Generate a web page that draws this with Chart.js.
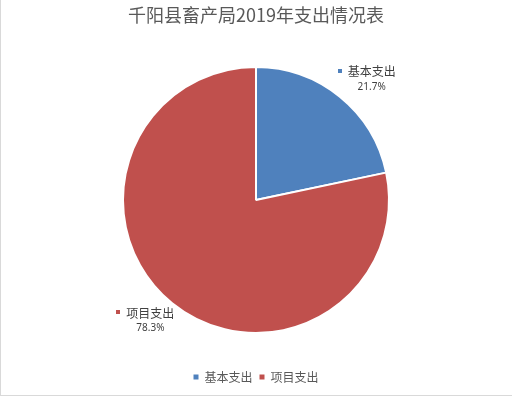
<!DOCTYPE html>
<html>
<head>
<meta charset="utf-8">
<script src="https://cdn.jsdelivr.net/npm/chart.js@4.4.1/dist/chart.umd.min.js"></script>
<style>
  html, body { margin: 0; padding: 0; background: #fff; }
  #wrap { position: absolute; left: 0; top: 0; width: 512px; height: 397px; }
  #bl { position: absolute; left: 0; top: 0; width: 1px; height: 396px; background: #d9d9d9; }
  #bb { position: absolute; left: 0; top: 395px; width: 512px; height: 1px; background: #d9d9d9; }
</style>
</head>
<body>
<div id="wrap"><canvas id="c" width="512" height="397"></canvas></div>
<div id="bl"></div><div id="bb"></div>
<script>
const titleText = '千阳县畜产局2019年支出情况表';
const categories = ['基本支出', '项目支出'];
const values = [21.7, 78.3];
const colors = ['#4F81BD', '#C0504D'];

const cjk = '"Noto Sans CJK SC", "Noto Sans", sans-serif';

const labelPlugin = {
  id: 'outLabels',
  afterDatasetsDraw(chart) {
    const ctx = chart.ctx;
    const meta = chart.getDatasetMeta(0);
    const data = chart.data.datasets[0].data;
    const total = data.reduce((a, b) => a + b, 0);
    meta.data.forEach((arc, i) => {
      const p = arc.getProps(['x', 'y', 'startAngle', 'endAngle', 'outerRadius'], true);
      const mid = (p.startAngle + p.endAngle) / 2;
      const cx = p.x + p.outerRadius * 1.32 * Math.cos(mid);
      const cy = p.y + p.outerRadius * 1.17 * Math.sin(mid);
      ctx.save();
      ctx.font = '12px ' + cjk;
      const tw = ctx.measureText(chart.data.labels[i]).width;
      const blockW = 4 + 6 + tw;
      const left = cx - blockW / 2;
      const tx = left + 10 + tw / 2;
      const y1 = cy - 7.5, y2 = cy + 7.5;
      ctx.fillStyle = colors[i];
      ctx.fillRect(Math.round(left), Math.round(y1 - 3), 4, 4);
      ctx.fillStyle = '#404040';
      ctx.textAlign = 'center';
      ctx.textBaseline = 'middle';
      ctx.fillText(chart.data.labels[i], tx, y1);
      ctx.font = '10px "Noto Sans", "Liberation Sans", sans-serif';
      ctx.fillText((data[i] / total * 100).toFixed(1) + '%', tx, y2);
      ctx.restore();
    });
  }
};

new Chart(document.getElementById('c'), {
  type: 'pie',
  data: {
    labels: categories,
    datasets: [{
      data: values,
      backgroundColor: colors,
      borderColor: '#ffffff',
      borderWidth: 2,
      radius: 133
    }]
  },
  options: {
    responsive: false,
    animation: false,
    layout: { padding: { top: 0, bottom: 4, left: 0, right: 0 } },
    plugins: {
      title: {
        display: true,
        text: titleText,
        color: '#595959',
        font: { family: cjk, size: 18, weight: 'normal' },
        padding: { top: 4, bottom: 10.4 }
      },
      legend: {
        display: true,
        position: 'bottom',
        labels: {
          color: '#595959',
          font: { family: cjk, size: 12 },
          boxWidth: 5,
          boxHeight: 5,
          padding: 7,
          generateLabels(chart) {
            const items = Chart.overrides.pie.plugins.legend.labels.generateLabels(chart);
            return items.map(it => Object.assign(it, { lineWidth: 0, strokeStyle: 'rgba(0,0,0,0)' }));
          }
        }
      },
      tooltip: { enabled: false }
    }
  },
  plugins: [labelPlugin]
});
</script>
</body>
</html>
